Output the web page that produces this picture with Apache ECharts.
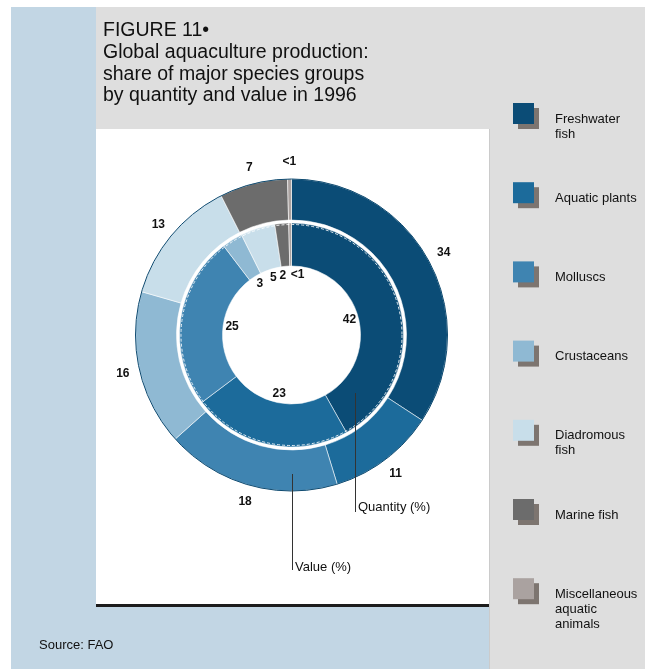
<!DOCTYPE html>
<html>
<head>
<meta charset="utf-8">
<script src="https://cdn.jsdelivr.net/npm/echarts@6/dist/echarts.min.js"></script>
<style>
  html, body { margin: 0; padding: 0; background: #fff; }
  #page { position: relative; width: 645px; height: 669px; overflow: hidden; }
  .blk { position: absolute; }
  #chart { position: absolute; left: 0; top: 0; width: 645px; height: 669px; }
</style>
</head>
<body>
<div id="page">
  <div class="blk" style="left:11px;top:7px;width:478px;height:662px;background:#c2d6e4"></div>
  <div class="blk" style="left:96px;top:7px;width:549px;height:122px;background:#dedede"></div>
  <div class="blk" style="left:489px;top:129px;width:156px;height:540px;background:#dedede;border-left:1px solid #cbcbcb"></div>
  <div class="blk" style="left:96px;top:129px;width:393px;height:475px;background:#fff"></div>
  <div class="blk" style="left:96px;top:604px;width:393px;height:3px;background:#1c1c1c"></div>
  <div id="chart"></div>
</div>
<script>
// Species groups, in drawing order (clockwise from 12 o'clock)
const categories = [
  'Freshwater fish', 'Aquatic plants', 'Molluscs', 'Crustaceans',
  'Diadromous fish', 'Marine fish', 'Miscellaneous aquatic animals'
];
// Wrapped names as shown beside the swatches
const legendLabels = [
  'Freshwater\nfish', 'Aquatic plants', 'Molluscs', 'Crustaceans',
  'Diadromous\nfish', 'Marine fish', 'Miscellaneous\naquatic\nanimals'
];
// Share by value, percent (outer ring); "<1" group kept below one
const valueShare = [34, 11, 18, 16, 13, 7, 0.4];
// Share by quantity, percent (inner ring)
const quantityShare = [42, 23, 25, 3, 5, 2, 0.4];

const colors = ['#0b4c76', '#1c6b9b', '#3f84b1', '#8fb9d3', '#c8deea', '#6c6c6c', '#aaa2a0'];

const titleText = 'FIGURE 11\u2022\nGlobal aquaculture production:\nshare of major species groups\nby quantity and value in 1996';
const sourceText = 'Source: FAO';

const FONT = '"Liberation Sans", Arial, Helvetica, sans-serif';
const CX = 291.5, CY = 335;

const pct = p => (p.value < 1 ? '<1' : String(Math.round(p.value)));

function ringData(values, transparent) {
  return values.map((v, i) => ({
    name: categories[i],
    value: v,
    itemStyle: { color: transparent ? 'rgba(0,0,0,0)' : colors[i] }
  }));
}

const ringBase = {
  type: 'pie',
  center: [CX, CY],
  startAngle: 90,
  clockwise: true,
  avoidLabelOverlap: false,
  emphasis: { disabled: true },
  labelLine: { show: false }
};

const labelStyle = {
  show: true,
  position: 'inside',
  formatter: pct,
  color: '#111',
  fontSize: 12,
  fontWeight: 'bold',
  fontFamily: FONT
};

// the last two thin slices share the top of the hole: push their labels apart
const lastIdx = categories.length - 1;
const splitTopLabels = p =>
  p.dataIndex === lastIdx ? { align: 'left' } :
  p.dataIndex === lastIdx - 1 ? { align: 'right' } : {};

const chart = echarts.init(document.getElementById('chart'), null, { renderer: 'canvas' });

const legendItems = categories.map((c, i) => ({
  type: 'group',
  x: 513,
  y: 103 + i * 79.2,
  silent: true,
  children: [
    { type: 'rect', shape: { x: 5, y: 5, width: 21, height: 21 }, style: { fill: '#7d7570' } },
    { type: 'rect', shape: { x: 0, y: 0, width: 21, height: 21 }, style: { fill: colors[i] } },
    {
      type: 'text',
      style: {
        text: legendLabels[i], x: 42, y: 8.5,
        fill: '#111', fontSize: 13, fontFamily: FONT,
        lineHeight: 15, verticalAlign: 'top', align: 'left'
      }
    }
  ]
}));

chart.setOption({
  backgroundColor: 'transparent',
  animation: false,
  title: {
    text: titleText,
    left: 103,
    top: 20,
    padding: 0,
    textStyle: { fontSize: 19.5, lineHeight: 21.7, fontWeight: 'normal', color: '#111', fontFamily: FONT }
  },
  series: [
    Object.assign({}, ringBase, {
      name: 'Value (%)',
      radius: [115, 156],
      label: { show: false },
      itemStyle: { borderColor: 'rgba(255,255,255,0.55)', borderWidth: 1 },
      data: ringData(valueShare, false)
    }),
    Object.assign({}, ringBase, {
      name: 'Quantity (%)',
      radius: [69, 112],
      label: { show: false },
      itemStyle: { borderColor: 'rgba(255,255,255,0.55)', borderWidth: 1 },
      data: ringData(quantityShare, false)
    }),
    // value labels set just outside the outer ring
    Object.assign({}, ringBase, {
      name: 'Value labels',
      radius: [160, 180],
      silent: true,
      label: labelStyle,
      data: ringData(valueShare, true)
    }),
    // quantity labels set just inside the hole
    Object.assign({}, ringBase, {
      name: 'Quantity labels',
      radius: [45, 69],
      silent: true,
      label: labelStyle,
      labelLayout: splitTopLabels,
      data: ringData(quantityShare, true)
    })
  ],
  graphic: [
    { type: 'circle', z: 50, silent: true, shape: { cx: CX, cy: CY, r: 156 },
      style: { fill: null, stroke: '#0e4a70', lineWidth: 1 } },
    { type: 'circle', z: 50, silent: true, shape: { cx: CX, cy: CY, r: 110.5 },
      style: { fill: null, stroke: 'rgba(255,255,255,0.85)', lineWidth: 1, lineDash: [3, 2] } },
    // ring call-outs
    { type: 'line', z: 60, silent: true, shape: { x1: 355.5, y1: 393, x2: 355.5, y2: 512 },
      style: { stroke: '#333', lineWidth: 1 } },
    { type: 'text', z: 60, silent: true,
      style: { text: 'Quantity (%)', x: 358, y: 507, fill: '#111', fontSize: 13, fontFamily: FONT, verticalAlign: 'middle' } },
    { type: 'line', z: 60, silent: true, shape: { x1: 292.5, y1: 474, x2: 292.5, y2: 570 },
      style: { stroke: '#333', lineWidth: 1 } },
    { type: 'text', z: 60, silent: true,
      style: { text: 'Value (%)', x: 295, y: 567, fill: '#111', fontSize: 13, fontFamily: FONT, verticalAlign: 'middle' } },
    { type: 'text', silent: true,
      style: { text: sourceText, x: 39, y: 645, fill: '#111', fontSize: 13, fontFamily: FONT, verticalAlign: 'middle' } }
  ].concat(legendItems)
});
</script>
</body>
</html>
